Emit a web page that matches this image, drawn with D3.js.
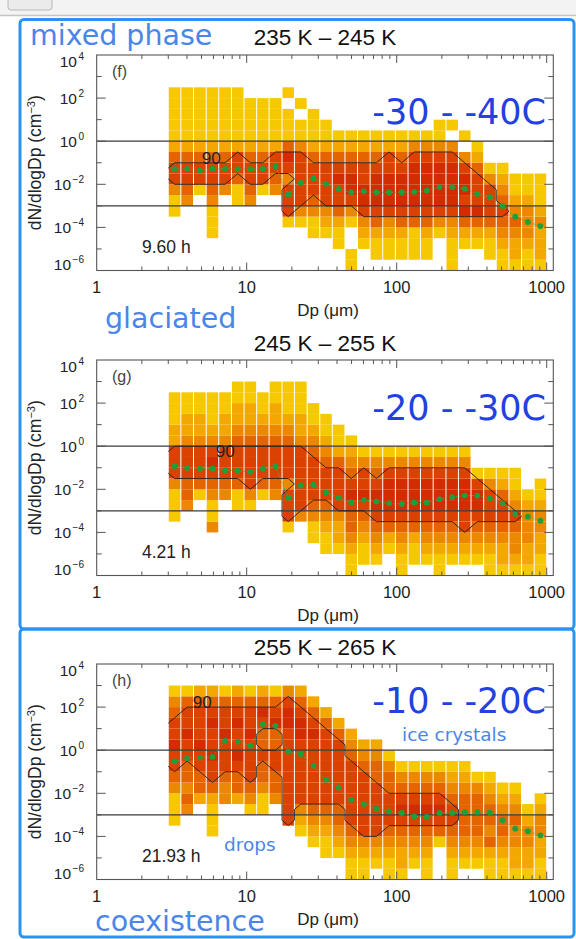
<!DOCTYPE html>
<html><head><meta charset="utf-8">
<script src="https://cdn.jsdelivr.net/npm/d3@7"></script>
<style>html,body{margin:0;padding:0;background:#fff;} svg{display:block;}</style>
</head><body>
<svg id="c" width="576" height="939"></svg>
<script>
// ---------------- data ----------------
const binEdges = [3.0, 3.64, 4.42, 5.37, 6.51, 7.91, 9.60, 11.65, 14.1, 17.2, 20.8, 25.3, 30.7, 37.2, 45.2, 54.8, 66.5, 80.7, 98.0, 119, 144, 175, 213, 258, 313, 380, 461, 560, 680, 825, 1000];
const rowExp = [-6,-5.5,-5,-4.5,-4,-3.5,-3,-2.5,-2,-1.5,-1,-0.5,0,0.5,1,1.5,2,2.5,3,3.5,4];
const xTickVals = [1, 10, 100, 1000];
const xTickLabels = ["1", "10", "100", "1000"];
const yTickExp = [-6, -4, -2, 0, 2, 4];
const refLines = [1, 0.001];
const panelTitles = ["235 K \u2013 245 K", "245 K \u2013 255 K", "255 K \u2013 265 K"];
const panelLetters = ["(f)", "(g)", "(h)"];
const hours = ["9.60 h", "4.21 h", "21.93 h"];
const tempLabels = ["-30 - -40C", "-20 - -30C", "-10 - -20C"];
const phaseLabels = ["mixed phase", "glaciated", "coexistence"];
const contourLevel = 4.5;
const contourText = "90";
const contourLabelPos = [[5.8, -0.78], [7.2, -0.22], [5.05, 2.25]]; // [um, log10]

// colour level per column (bins) and row (bottom -> top, half decades)
const cellsF = [
"00000113554211111000","00000034554211111000","00000001554211111000","00011134554211111000",
"00000003554211111000","00000011455211111000","00000034554211110000","00000001554211110000",
"00000003455211110000","00001555356411101000","00001355555311010000","00011345554211100000",
"00012355554211000000","00112455654210000000","11001356654210000000","00123566554210000000",
"01124566654210000000","01123566655210000000","01124566654210000000","01114566665310000000",
"01124566665310000000","00013566665311000000","11123566665301000000","00124656653010000000",
"00124655542100000000","01124555310000000000","11234543210000000000","12234321100000000000",
"11233321100000000000","12223211100000000000"];
const cellsG = [
"00000111355522111000","00000034455532211000","00000001455532211000","00003113456532111000",
"00000003455532211000","00000011455543221100","00000013555543221100","00000001455543211000",
"00000003455543221100","00001555355543211100","00000355555532211100","00011345555432110000",
"00112345554321100000","00122355554211000000","11234456543210000000","01123456553100000000",
"01234566543100000000","00124566653100000000","11234566653100000000","01124566653100000000",
"01234566653100000000","11234566653100000000","01234566653100000000","01235566653100000000",
"01234566510000000000","11234555310000000000","12234554210000000000","12334532110000000000",
"12233321000000000000","11223321100000000000"];
const cellsH = [
"00000111345565543100","00000034344556554100","00000002445565554200","00001112455655654200",
"00000003345556554100","00000002445655654200","00000013455556554100","00000011344544564200",
"00000003445544654100","00000555555555665300","00001235555556654200","00012345555556542000",
"00112345555555420000","00123445555554200000","11234555555432000000","11235555554320000000",
"01235555544320000000","11234555443100000000","12234565431000000000","01234565431000000000",
"11234565431000000000","00014565431000000000","11234554321000000000","01234444321000000000",
"01234444310000000000","11243443210000000000","11234432100000000000","12233432100000000000",
"12233210000000000000","11223321000000000000"];

// median (log10 dN/dlogDp) per bin
const medianF = [-1.30,-1.28,-1.36,-1.28,-1.28,-1.30,-1.30,-1.28,-1.16,-2.48,-1.93,-1.73,-1.98,-2.21,-2.37,-2.33,-2.37,-2.37,-2.37,-2.35,-2.29,-2.13,-2.13,-2.21,-2.45,-2.60,-3.01,-3.50,-3.75,-3.94];
const medianG = [-0.93,-1.01,-1.04,-1.04,-1.12,-1.13,-1.19,-1.05,-0.93,-2.39,-1.82,-1.79,-2.15,-2.39,-2.60,-2.49,-2.57,-2.65,-2.68,-2.62,-2.62,-2.46,-2.37,-2.29,-2.29,-2.42,-2.65,-3.15,-3.27,-3.46];
const medianH = [-0.52,-0.37,-0.34,-0.31,0.44,0.40,0.21,1.21,1.13,-0.06,-0.18,-0.72,-1.37,-1.73,-2.30,-2.50,-2.70,-2.84,-2.91,-3.07,-3.10,-2.91,-2.91,-2.87,-2.87,-2.90,-3.25,-3.64,-3.76,-3.95];

const levelColors = ["none","#f6c800","#f2a800","#ec8800","#e46400","#db4200","#d22c00"];

// ---------------- layout ----------------
const svg = d3.select("#c");
const FONT = "'Liberation Sans', Arial, Helvetica, sans-serif";
const FONT2 = "'DejaVu Sans', Verdana, sans-serif";
const plotL = 96.7, plotR = 553.3;
const panels = [
  {cells: cellsF, median: medianF, off: 0,   tempY: 124, phaseX: 30, phaseY: 45},
  {cells: cellsG, median: medianG, off: 305, tempY: 420, phaseX: 105, phaseY: 328},
  {cells: cellsH, median: medianH, off: 609, tempY: 713, phaseX: 95, phaseY: 931}
];

// window chrome
svg.append("rect").attr("x",0).attr("y",0).attr("width",576).attr("height",15).attr("fill","#f3f3f3");
svg.append("path").attr("d","M8,-2 L8,7 Q8,10 11,10 L49,10 Q52,10 52,7 L52,-2").attr("fill","#ebebeb").attr("stroke","#b8b8b8");
svg.append("line").attr("x1",0).attr("x2",576).attr("y1",15.5).attr("y2",15.5).attr("stroke","#c4c4c4").attr("stroke-width",1.5);

// frames
svg.append("rect").attr("x",20).attr("y",19.5).attr("width",554).attr("height",609.5).attr("rx",4)
  .attr("fill","none").attr("stroke","#2b93f3").attr("stroke-width",3);
svg.append("rect").attr("x",20).attr("y",629).attr("width",554).attr("height",308).attr("rx",4)
  .attr("fill","none").attr("stroke","#2b93f3").attr("stroke-width",3);

const x = d3.scaleLog().domain([1, 1000]).range([plotL, 546.7]);

function gridToUm(g) {
  const i = Math.max(0, Math.min(binEdges.length - 2, Math.floor(g)));
  const f = g - i;
  const lo = Math.log10(binEdges[i]), hi = Math.log10(binEdges[i + 1]);
  return Math.pow(10, lo + f * (hi - lo));
}

panels.forEach((P, p) => {
  const yTop = 55 + P.off, yBot = 270.5 + P.off;
  const y = d3.scaleLog().domain([1e-6, 1e4]).range([yBot, yTop]);
  const g = svg.append("g");
  const cid = "clip" + p;
  svg.append("clipPath").attr("id", cid).append("rect")
    .attr("x", plotL).attr("y", yTop).attr("width", plotR - plotL).attr("height", yBot - yTop);
  g.append("rect").attr("x", plotL).attr("y", yTop).attr("width", plotR - plotL).attr("height", yBot - yTop).attr("fill", "#fff");

  // cells
  const cellData = [];
  P.cells.forEach((col, i) => {
    for (let j = 0; j < rowExp.length - 1; j++) {
      const lv = +(col[j] || 0);
      if (lv > 0) cellData.push({i, j, lv});
    }
  });
  const cg = g.append("g").attr("clip-path", `url(#${cid})`);
  cg.selectAll("rect.cell").data(cellData).join("rect").attr("class","cell")
    .attr("x", d => x(binEdges[d.i]) + 0.5)
    .attr("width", d => x(binEdges[d.i + 1]) - x(binEdges[d.i]) - 1)
    .attr("y", d => y(Math.pow(10, rowExp[d.j + 1])))
    .attr("height", d => y(Math.pow(10, rowExp[d.j])) - y(Math.pow(10, rowExp[d.j + 1])))
    .attr("fill", d => levelColors[d.lv]);

  // reference lines
  cg.selectAll("line.ref").data(refLines).join("line").attr("class","ref")
    .attr("x1", plotL).attr("x2", plotR).attr("y1", d => y(d)).attr("y2", d => y(d))
    .attr("stroke", "#3a3a3a").attr("stroke-width", 1.2);

  // contour (open at the data boundary)
  const nx = P.cells.length, ny = rowExp.length - 1;
  const vals = new Array(nx * ny).fill(0);
  P.cells.forEach((col, i) => { for (let j = 0; j < ny; j++) vals[j * nx + i] = +(col[j] || 0); });
  const cont = d3.contours().size([nx, ny]).smooth(false).thresholds([contourLevel])(vals)[0];
  const onEdge = (a, b) => (a[0] === 0 && b[0] === 0) || (a[0] === nx && b[0] === nx) ||
                           (a[1] === 0 && b[1] === 0) || (a[1] === ny && b[1] === ny);
  const toPx = ([gx, gy]) => x(gridToUm(gx)).toFixed(2) + "," + y(Math.pow(10, rowExp[0] + 0.5 * gy)).toFixed(2);
  let dstr = "";
  cont.coordinates.forEach(poly => poly.forEach(ring => {
    let pen = false;
    for (let k = 0; k < ring.length - 1; k++) {
      const a = ring[k], b = ring[k + 1];
      if (onEdge(a, b)) { pen = false; continue; }
      if (!pen) { dstr += "M" + toPx(a); pen = true; }
      dstr += "L" + toPx(b);
    }
  }));
  cg.append("path").attr("d", dstr).attr("fill", "none").attr("stroke", "#2a1d18")
    .attr("stroke-width", 1).attr("stroke-opacity", 0.9);

  // contour label
  const lp = contourLabelPos[p];
  g.append("text").attr("x", x(lp[0])).attr("y", y(Math.pow(10, lp[1])) + 6)
    .attr("text-anchor","middle").attr("font-family", FONT).attr("font-size", 17).attr("fill","#222")
    .text(contourText);

  // median line & dots
  const md = P.median.map((v, i) => ({xv: Math.sqrt(binEdges[i] * binEdges[i + 1]), yv: Math.pow(10, v)}));
  cg.append("path").datum(md).attr("d", d3.line().x(d => x(d.xv)).y(d => y(d.yv)))
    .attr("fill","none").attr("stroke","#49b04f").attr("stroke-width",0.9).attr("stroke-dasharray","1.5,1.8");
  cg.selectAll("circle.med").data(md).join("circle").attr("class","med")
    .attr("cx", d => x(d.xv)).attr("cy", d => y(d.yv)).attr("r", 2.9).attr("fill", "#1f9e3e");

  // box
  g.append("rect").attr("x", plotL).attr("y", yTop).attr("width", plotR - plotL).attr("height", yBot - yTop)
    .attr("fill","none").attr("stroke","#555").attr("stroke-width",1.1);

  // x ticks
  const xt = [];
  [1, 10, 100].forEach(dec => { for (let k = 1; k <= 9; k++) xt.push({v: dec * k, major: k === 1}); });
  xt.push({v: 1000, major: true});
  xt.forEach(t => {
    const L = t.major ? 8 : 4;
    const px = x(t.v);
    if (px <= plotL + 0.5) return;
    g.append("line").attr("x1", px).attr("x2", px).attr("y1", yBot).attr("y2", yBot - L).attr("stroke","#555");
    g.append("line").attr("x1", px).attr("x2", px).attr("y1", yTop).attr("y2", yTop + L).attr("stroke","#555");
  });
  // y ticks
  for (let e = -5; e <= 3; e++) {
    const major = (e % 2 === 0);
    const L = major ? 9 : 5;
    const py = y(Math.pow(10, e));
    g.append("line").attr("x1", plotL).attr("x2", plotL + L).attr("y1", py).attr("y2", py).attr("stroke","#555");
    g.append("line").attr("x1", plotR).attr("x2", plotR - L).attr("y1", py).attr("y2", py).attr("stroke","#555");
  }

  // x tick labels
  xTickVals.forEach((v, k) => {
    g.append("text").attr("x", x(v)).attr("y", 293 + P.off).attr("text-anchor","middle")
      .attr("font-family", FONT).attr("font-size", 16.5).attr("fill","#222").text(xTickLabels[k]);
  });
  // y tick labels
  yTickExp.forEach(e => {
    const shift = e === 4 ? 6 : (e === -6 ? -6 : 0);
    const t = g.append("text").attr("x", 84).attr("y", y(Math.pow(10, e)) + shift + 5.5)
      .attr("text-anchor","end").attr("font-family", FONT).attr("font-size", 15.5).attr("fill","#222");
    t.append("tspan").text("10");
    t.append("tspan").attr("dx", 1.5).attr("dy", -7).attr("font-size", 10).text(e < 0 ? "\u2212" + (-e) : String(e));
  });

  // axis titles
  g.append("text").attr("x", (plotL + plotR) / 2 + 3).attr("y", 316 + P.off).attr("text-anchor","middle")
    .attr("font-family", FONT).attr("font-size", 17).attr("fill","#222").text("Dp (\u03bcm)");
  const yt = g.append("text").attr("transform", `translate(41,${(yTop + yBot) / 2}) rotate(-90)`)
    .attr("text-anchor","middle").attr("font-family", FONT).attr("font-size", 17.5).attr("fill","#222");
  yt.append("tspan").text("dN/dlogDp (cm");
  yt.append("tspan").attr("dy", -6.5).attr("font-size", 11).text("\u22123");
  yt.append("tspan").attr("dy", 6.5).text(")");

  // title
  g.append("text").attr("x", 325).attr("y", 45 + P.off + (p === 0 ? 0 : 1)).attr("text-anchor","middle")
    .attr("font-family", FONT).attr("font-size", 22.5).attr("fill","#111").text(panelTitles[p]);

  // letter, hours
  g.append("text").attr("x", 112).attr("y", 77 + P.off).attr("font-family", FONT).attr("font-size", 16)
    .attr("fill","#444").text(panelLetters[p]);
  g.append("text").attr("x", 142).attr("y", 253 + P.off).attr("font-family", FONT).attr("font-size", 17.5)
    .attr("fill","#222").text(hours[p]);

  // temperature annotation
  g.append("text").attr("x", 546).attr("y", P.tempY).attr("text-anchor","end")
    .attr("font-family", FONT2).attr("font-size", 35).attr("fill","#2340e0").text(tempLabels[p]);

  // phase annotation
  svg.append("text").attr("x", P.phaseX).attr("y", P.phaseY).attr("font-family", FONT2).attr("font-size", 28.5)
    .attr("fill","#4a86e8").text(phaseLabels[p]);
});

// extra annotations in last panel
svg.append("text").attr("x", 402).attr("y", 741).attr("font-family", FONT2).attr("font-size", 18.5)
  .attr("fill","#4a86e8").text("ice crystals");
svg.append("text").attr("x", 224).attr("y", 851).attr("font-family", FONT2).attr("font-size", 18.5)
  .attr("fill","#4a86e8").text("drops");
</script>
</body></html>
